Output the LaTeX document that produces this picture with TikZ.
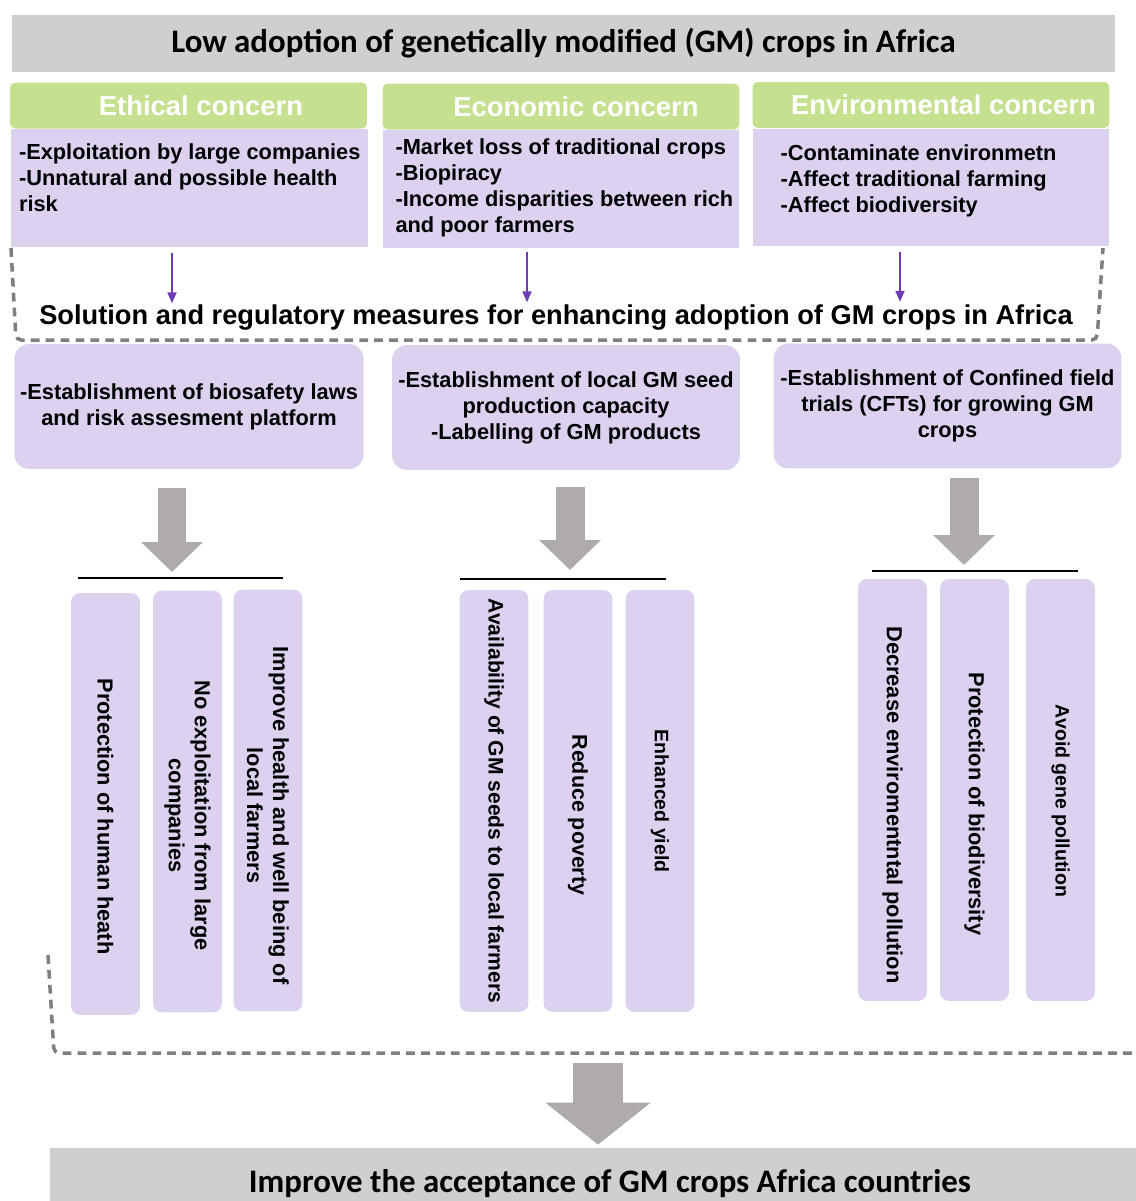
\documentclass[tikz,border=0pt]{standalone}
\usepackage{fontspec}
\setmainfont{Liberation Sans}
\newfontfamily\carlito{Carlito}
\usetikzlibrary{arrows.meta, positioning, calc}
\definecolor{titleGray}{HTML}{D0CECE}
\definecolor{headGreen}{HTML}{C5E08F}
\definecolor{boxLavender}{HTML}{DCD2F0}
\definecolor{arrowPurple}{HTML}{6E3CB4}
\definecolor{blockGray}{HTML}{AFABAB}
\definecolor{dashGray}{HTML}{7F7F7F}

\begin{document}
\begin{tikzpicture}[
    x=0.02cm, y=-0.02cm,
    banner/.style={fill=titleGray, minimum width=22.06cm, minimum height=1.14cm, font=\carlito\bfseries\fontsize{18.7}{21}\selectfont},
    head/.style={fill=headGreen, rounded corners=3pt, minimum width=7.14cm, minimum height=0.92cm, text=white, font=\bfseries\fontsize{15.6}{18}\selectfont},
    concern/.style={fill=boxLavender, minimum width=7.14cm, minimum height=2.36cm},
    ctext/.style={anchor=north west, align=left, inner sep=0pt, font=\bfseries\fontsize{12.4}{14.8}\selectfont},
    solbox/.style={fill=boxLavender, rounded corners=0.3cm, minimum width=6.96cm, minimum height=2.5cm, align=center, font=\bfseries\fontsize{12.4}{14.8}\selectfont},
    vbox/.style={fill=boxLavender, rounded corners=0.18cm, rotate=-90, minimum width=8.44cm, minimum height=1.38cm, align=center, font=\bfseries\fontsize{12.4}{14.8}\selectfont},
    parrow/.style={draw=arrowPurple, line width=1.1pt, -{Triangle[length=0.22cm, width=0.18cm]}},
    barrow/.style={draw=blockGray, line width=0.58cm, -{Triangle[length=0.6cm, width=1.2cm]}},
    bigarrow/.style={draw=blockGray, line width=1cm, -{Triangle[length=0.84cm, width=2.06cm]}},
    bar/.style={line width=1.2pt},
    dashbox/.style={draw=dashGray, line width=2pt, dash pattern=on 5pt off 3.5pt, rounded corners=3pt},
]
    \useasboundingbox (0,0) rectangle (1136,1201);
    \clip (0,0) rectangle (1136,1201);

    % problem
    \node[banner] (low) at (563.5,43.5) {Low adoption of genetically modified (GM) crops in Africa};

    \node[head] (eth) at (188.5,105.5) {\hspace*{0.5cm}Ethical concern};
    \node[head] (eco) at (561,106.5) {\hspace*{0.6cm}Economic concern};
    \node[head] (env) at (931,105) {\hspace*{0.5cm}Environmental concern};

    \node[concern] (ethbox) at (189.5,188) {};
    \node[concern] (ecobox) at (561,189) {};
    \node[concern] (envbox) at (931,187.5) {};
    \node[ctext] (ethtxt) at ([xshift=0.16cm,yshift=-0.3cm]ethbox.north west) {-Exploitation by large companies\\-Unnatural and possible health\\risk};
    \node[ctext] (ecotxt) at ([xshift=0.26cm,yshift=-0.18cm]ecobox.north west) {-Market loss of traditional crops\\-Biopiracy\\-Income disparities between rich\\and poor farmers};
    \node[ctext] (envtxt) at ([xshift=0.56cm,yshift=-0.32cm]envbox.north west) {-Contaminate environmetn\\-Affect traditional farming\\-Affect biodiversity};

    % solutions
    \draw[dashbox] (11,248) -- (16,340) -- (1097,340) -- (1103,248);
    \node[font=\bfseries\fontsize{15.5}{18}\selectfont] (sol) at (556,318) {Solution and regulatory measures for enhancing adoption of GM crops in Africa};

    \draw[parrow] ([xshift=-0.35cm,yshift=-0.12cm]ethbox.south) -- ++(0,50);
    \draw[parrow] ([xshift=-0.68cm,yshift=-0.08cm]ecobox.south) -- ++(0,50);
    \draw[parrow] ([xshift=-0.62cm,yshift=-0.1cm]envbox.south) -- ++(0,50);

    \node[solbox] (s1) at (189,406.5) {-Establishment of biosafety laws\\and risk assesment platform};
    \node[solbox] (s2) at (566,407.5) {-Establishment of local GM seed\\production capacity\\-Labelling of GM products};
    \node[solbox] (s3) at (947.5,406) {-Establishment of Confined field\\trials (CFTs) for growing GM\\crops};

    % outcomes
    \coordinate (bar1) at (172,578);
    \coordinate (bar2) at (570,579);
    \coordinate (bar3) at (964,571);
    \draw[bar] ([xshift=-1.88cm]bar1) -- ([xshift=2.22cm]bar1);
    \draw[bar] ([xshift=-2.2cm]bar2) -- ([xshift=1.92cm]bar2);
    \draw[bar] ([xshift=-1.84cm]bar3) -- ([xshift=2.28cm]bar3);
    \draw[barrow] (s1.south -| bar1) ++(0,19) -- ([yshift=0.12cm]bar1);
    \draw[barrow] (s2.south -| bar2) ++(0,17) -- ([yshift=0.18cm]bar2);
    \draw[barrow] (s3.south -| bar3) ++(0,9) -- ([yshift=0.12cm]bar3);

    \node[vbox] (r11) at (105.5,804) {\hspace*{0.5cm}Protection of human heath};
    \node[vbox] (r12) at (187.5,801.5) {\hspace*{0.56cm}No exploitation from large\\\hspace*{0.56cm}companies};
    \node[vbox] (r13) at (268,800.5) {\hspace*{0.6cm}Improve health and well being of\\\hspace*{0.6cm}local farmers};
    \node[vbox, font=\bfseries\fontsize{12}{14}\selectfont] (r21) at (494,801) {Availability of GM seeds to local farmers};
    \node[vbox, font=\bfseries\fontsize{12.2}{14}\selectfont] (r22) at (578,801) {\hspace*{0.56cm}Reduce poverty};
    \node[vbox, font=\bfseries\fontsize{11.1}{13}\selectfont] (r23) at (660,801) {Enhanced yield};
    \node[vbox] (r31) at (892.5,790) {\hspace*{0.6cm}Decrease enviromentntal pollution};
    \node[vbox] (r32) at (974.5,790) {\hspace*{0.56cm}Protection of biodiversity};
    \node[vbox, font=\bfseries\fontsize{11.1}{13}\selectfont] (r33) at (1060.5,790) {\hspace*{0.44cm}Avoid gene pollution};

    \draw[dashbox] (48,955) -- (54,1053) -- (1140,1053);

    % final result
    \node[banner, minimum width=22.4cm, minimum height=1.44cm, font=\carlito\bfseries\fontsize{18.7}{21}\selectfont] (final) at (610,1184) {Improve the acceptance of GM crops Africa countries};
    \draw[bigarrow] ([xshift=-0.24cm,yshift=1.7cm]final.north) -- ([xshift=-0.24cm,yshift=0.06cm]final.north);
\end{tikzpicture}
\end{document}
